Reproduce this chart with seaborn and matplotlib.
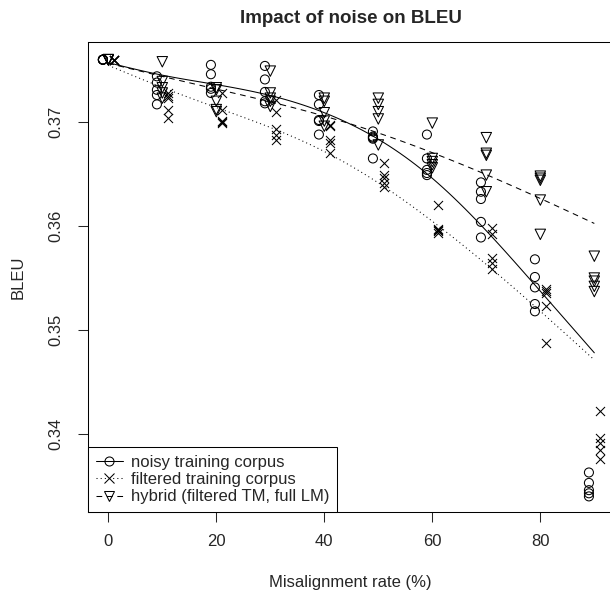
import matplotlib
matplotlib.use("Agg")
import matplotlib.pyplot as plt
from matplotlib.lines import Line2D
import seaborn as sns
import pandas as pd
import numpy as np

# misalignment rates (%) and BLEU of the 5 runs per rate
rates = [0, 10, 20, 30, 40, 50, 60, 70, 80, 90]

noisy = [
    [0.3760, 0.3760, 0.3760, 0.3760, 0.3760],
    [0.3744, 0.3738, 0.3731, 0.3726, 0.3717],
    [0.3755, 0.3746, 0.3734, 0.3732, 0.3728],
    [0.3754, 0.3741, 0.3729, 0.3720, 0.3718],
    [0.3726, 0.3717, 0.3702, 0.3701, 0.3688],
    [0.3691, 0.3686, 0.3685, 0.3684, 0.3665],
    [0.3688, 0.3665, 0.3654, 0.3651, 0.3649],
    [0.3642, 0.3633, 0.3626, 0.3604, 0.3589],
    [0.3568, 0.3551, 0.3541, 0.3525, 0.3518],
    [0.3363, 0.3353, 0.3346, 0.3343, 0.3340],
]
filtered = [
    [0.3760, 0.3760, 0.3760, 0.3760, 0.3760],
    [0.3728, 0.3725, 0.3723, 0.3712, 0.3704],
    [0.3728, 0.3712, 0.3701, 0.3700, 0.3699],
    [0.3721, 0.3710, 0.3693, 0.3688, 0.3683],
    [0.3697, 0.3696, 0.3683, 0.3680, 0.3670],
    [0.3661, 0.3649, 0.3646, 0.3641, 0.3638],
    [0.3620, 0.3597, 0.3596, 0.3595, 0.3593],
    [0.3598, 0.3592, 0.3569, 0.3564, 0.3559],
    [0.3539, 0.3538, 0.3536, 0.3523, 0.3488],
    [0.3422, 0.3396, 0.3391, 0.3385, 0.3376],
]
hybrid = [
    [0.3760, 0.3760, 0.3760, 0.3760, 0.3760],
    [0.3758, 0.3739, 0.3733, 0.3728, 0.3723],
    [0.3733, 0.3731, 0.3720, 0.3712, 0.3710],
    [0.3749, 0.3728, 0.3723, 0.3720, 0.3715],
    [0.3723, 0.3720, 0.3709, 0.3701, 0.3696],
    [0.3723, 0.3717, 0.3710, 0.3703, 0.3678],
    [0.3699, 0.3665, 0.3662, 0.3659, 0.3656],
    [0.3685, 0.3670, 0.3668, 0.3649, 0.3633],
    [0.3648, 0.3646, 0.3644, 0.3625, 0.3592],
    [0.3571, 0.3550, 0.3547, 0.3542, 0.3537],
]

labels = ["noisy training corpus", "filtered training corpus",
          "hybrid (filtered TM, full LM)"]


def to_long(values, name):
    rows = []
    for r, runs in zip(rates, values):
        for v in runs:
            rows.append({"rate": r, "bleu": v, "series": name})
    return pd.DataFrame(rows)


def robust_smooth(df, lam, c=4, iters=3):
    # robust (bisquare reweighted) discrete smoothing spline on a 1% grid
    grid = np.arange(min(rates), max(rates) + 1)
    n = len(grid)
    idx = (df["rate"].to_numpy() - grid[0]).astype(int)
    y = df["bleu"].to_numpy()
    D = np.diff(np.eye(n), 2, axis=0)
    P = lam * D.T @ D
    rw = np.ones(len(y))
    for it in range(iters + 1):
        w = np.bincount(idx, weights=rw, minlength=n)
        z = np.bincount(idx, weights=rw * y, minlength=n)
        f = np.linalg.solve(np.diag(w) + P, z)
        if it < iters:
            res = y - f[idx]
            s = np.median(np.abs(res))
            u = np.clip(res / (c * s), -1, 1)
            rw = (1 - u ** 2) ** 2
    return pd.DataFrame({"rate": grid, "fit": f})


sns.set_style("ticks")
plt.rcParams["font.family"] = ["Liberation Sans", "DejaVu Sans"]
plt.rcParams["font.size"] = 12
plt.rcParams["axes.linewidth"] = 0.75

fig = plt.figure(figsize=(6.1, 5.92), dpi=100)
ax = fig.add_axes([88 / 610, 80 / 592, (613.6 - 88) / 610, 470 / 592])

# data, label, marker, x dodge, line style, marker size, smoothing
series = [
    (noisy, labels[0], "o", -1, "-", 6.5, 3e3),
    (filtered, labels[1], "x", 1, (0, (1, 3)), 6.5, 1e4),
    (hybrid, labels[2], "v", 0, (0, (5.5, 4.5)), 7.5, 3e4),
]

handles = []
for values, name, mk, dodge, ls, ms, lam in series:
    df = to_long(values, name)
    df["xpos"] = df["rate"] + dodge
    if mk == "x":
        sns.scatterplot(data=df, x="xpos", y="bleu", marker="x", s=ms ** 2,
                        color="black", linewidth=0.75, ax=ax, legend=False)
    else:
        sns.scatterplot(data=df, x="xpos", y="bleu", marker=mk, s=ms ** 2,
                        facecolor="none", edgecolor="black", linewidth=0.75,
                        ax=ax, legend=False)
    fit = robust_smooth(df, lam)
    sns.lineplot(data=fit, x="rate", y="fit", color="black", linewidth=0.75,
                 linestyle=ls, ax=ax, legend=False)
    handles.append(Line2D([], [], color="black", linewidth=0.75, linestyle=ls,
                          marker=mk, markersize=ms, markerfacecolor="none",
                          markeredgecolor="black", markeredgewidth=0.75))

ax.set_xlim(-3.76, 93.57)
ax.set_ylim(0.3325, 0.3777)
ax.set_xticks([0, 20, 40, 60, 80])
ax.set_yticks([0.34, 0.35, 0.36, 0.37])
ax.set_yticklabels(["0.34", "0.35", "0.36", "0.37"])
ax.tick_params(direction="out", length=7.2, width=0.75, labelsize=12)
ax.tick_params(axis="x", pad=8.5)
ax.tick_params(axis="y", pad=10.5)
plt.setp(ax.get_yticklabels(), rotation=90, va="center")

ax.set_xlabel("Misalignment rate (%)", fontsize=12)
ax.set_ylabel("BLEU", fontsize=12)
ax.xaxis.set_label_coords(0.5, -0.151)
ax.xaxis.label.set_va("center")
ax.yaxis.set_label_coords(-0.1336, 0.5)
ax.yaxis.label.set_va("center")

ax.text(0.5, 1.05, "Impact of noise on BLEU", transform=ax.transAxes,
        ha="center", va="center", fontsize=13.5, fontweight="bold")

for sp in ax.spines.values():
    sp.set_visible(True)
    sp.set_color("black")
    sp.set_linewidth(0.75)

leg = ax.legend(handles, labels, loc="lower left", bbox_to_anchor=(0, 0),
                borderaxespad=0, fontsize=12, handlelength=1.65,
                handletextpad=0.5, borderpad=0.45, labelspacing=0.15,
                fancybox=False, framealpha=1, edgecolor="black")
leg.get_frame().set_linewidth(0.75)

fig.savefig("out.png", dpi=100)
